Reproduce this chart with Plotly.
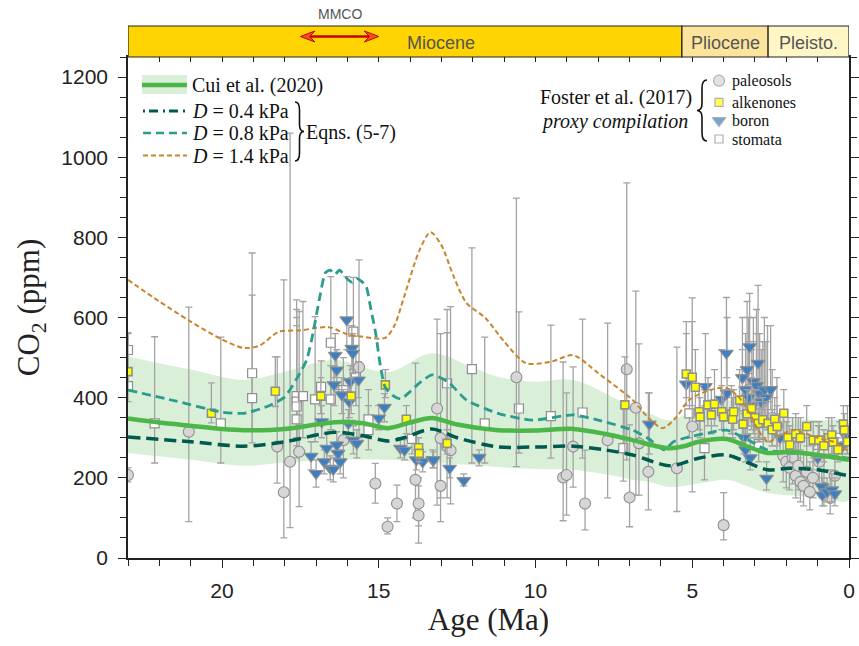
import plotly.graph_objects as go

# ---------------- model curves ----------------
cui_age = [23, 22, 21, 20, 19.3, 18, 17, 16.4, 15.5, 14.7, 14.0, 13.3, 12.5, 11.2, 10, 8.8, 7.8, 6.9, 6.2, 5.7, 5.2, 4.8, 3.9, 3.3, 2.6, 1.9, 1.0, 0]
cui_co2 = [348, 338, 330, 322, 319, 322, 333, 339, 336, 324, 338, 349, 333, 319, 318, 322, 310, 294, 280, 274, 280, 290, 297, 280, 262, 265, 257, 245]

band_age = [23, 21, 19.3, 18, 16.4, 14.7, 13.3, 12, 11.2, 10, 8.8, 7.5, 6.9, 6.4, 5.7, 4.7, 3.9, 3.2, 2.6, 1.0, 0]
band_hi = [503, 470, 444, 465, 494, 464, 511, 475, 452, 440, 444, 400, 377, 362, 344, 382, 394, 370, 352, 344, 337]
band_lo = [262, 245, 230, 238, 245, 245, 237, 232, 227, 222, 220, 205, 195, 190, 177, 187, 195, 178, 162, 152, 145]

d04_age = [23, 21, 19.3, 18, 16.4, 15.5, 14.7, 14.2, 13.3, 12.5, 11.2, 10, 8.8, 7.8, 6.9, 5.7, 4.8, 3.9, 3.2, 2.6, 1.9, 1.0, 0]
d04_co2 = [302, 290, 279, 290, 314, 305, 292, 300, 322, 300, 277, 277, 279, 270, 257, 230, 249, 257, 237, 220, 224, 220, 205]

d08_age = [23, 21.5, 20, 19.3, 18.5, 18.0, 17.6, 17.3, 17.1, 16.9, 16.7, 16.55, 16.4, 16.25, 16.05, 15.85, 15.7, 15.55, 15.4, 15.25, 15.1, 14.95, 14.8, 14.55, 14.3, 14.0, 13.7, 13.3, 12.8, 12.2, 11.2, 10.1, 8.8, 8.0, 6.9, 6.4, 5.9, 5.6, 5.2, 4.5, 3.9, 3.2, 2.6, 1.9, 1.0, 0]
d08_co2 = [419, 392, 364, 361, 380, 402, 450, 494, 560, 644, 712, 718, 708, 718, 700, 688, 697, 690, 677, 620, 561, 480, 427, 405, 397, 415, 437, 457, 440, 394, 361, 344, 357, 344, 319, 298, 270, 290, 300, 312, 319, 294, 269, 262, 258, 249]

d14_age = [23, 22, 21, 20, 19.3, 18.8, 18.2, 17.5, 16.6, 16.0, 15.5, 14.8, 14.5, 14.2, 13.7, 13.35, 13.0, 12.6, 12.2, 11.6, 11.0, 10.3, 9.5, 8.8, 8.0, 6.9, 6.4, 5.95, 5.5, 5.1, 4.4, 3.9, 3.5, 3.17, 2.9, 2.58, 2.2, 1.8, 1.0, 0.5, 0]
d14_co2 = [694, 640, 590, 545, 524, 530, 564, 568, 576, 558, 552, 549, 580, 650, 768, 813, 780, 700, 636, 599, 540, 486, 490, 506, 461, 394, 350, 324, 352, 394, 420, 424, 400, 361, 320, 290, 305, 319, 300, 290, 265]

# ---------------- Foster et al. (2017) proxies ----------------
paleo_age = [23.0, 21.06, 18.24, 18.03, 17.83, 17.54, 16.13, 15.63, 15.11, 14.72, 14.42, 13.83, 13.73, 13.73, 13.14, 13.03, 13.03, 12.82, 12.71,
             10.61, 9.12, 9.01, 8.8, 8.42, 7.7, 7.09, 7.0, 6.8, 6.7, 6.4, 5.49, 5.0, 4.0,
             3.4, 3.2, 3.05, 2.95, 2.85, 2.75, 2.6, 2.45, 2.3, 2.1, 2.0, 1.9, 1.8, 1.7, 1.62, 1.55, 1.45, 1.35, 1.25, 1.15, 0.95, 0.8, 0.6, 0.45]
paleo_co2 = [207, 315, 278, 164, 240, 265, 294, 476, 186, 78, 136, 195, 136, 106, 373, 299, 180, 278, 269,
             451, 201, 207, 278, 136, 294, 471, 151, 375, 286, 215, 224, 328, 82,
             380, 420, 395, 405, 360, 390, 410, 350, 330, 255, 240, 225, 250, 205, 230, 190, 180, 215, 165, 200, 240, 175, 150, 205]
paleo_lo = [190, 91, 187, 50, 76, 128, 200, 300, 137, 60, 91, 100, 80, 37, 132, 150, 91, 150, 135,
            228, 93, 107, 177, 70, 150, 245, 78, 157, 157, 120, 116, 165, 45,
            300, 330, 310, 320, 290, 300, 320, 280, 260, 190, 175, 170, 185, 150, 170, 140, 130, 160, 120, 150, 180, 130, 110, 150]
paleo_hi = [225, 626, 502, 694, 1060, 615, 420, 744, 236, 100, 182, 486, 200, 180, 596, 560, 300, 620, 627,
            898, 489, 412, 477, 269, 586, 936, 332, 666, 534, 412, 526, 590, 163,
            520, 600, 540, 560, 480, 540, 580, 470, 450, 360, 340, 310, 350, 290, 320, 270, 260, 300, 240, 280, 330, 250, 220, 290]

alk_age = [23.0, 20.34, 18.3, 16.85, 15.88, 14.79, 14.12, 13.73, 13.71, 12.82, 7.15,
           5.19, 5.0, 4.9, 4.78, 4.75, 4.5, 4.39, 4.29, 4.06, 4.0, 3.75, 3.71, 3.68, 3.49, 3.38, 3.25, 3.11, 3.0, 2.9, 2.75, 2.58, 2.45, 2.37, 2.29, 2.08, 1.95, 1.89,
           1.7, 1.55, 1.35, 1.14, 0.96, 0.8, 0.65, 0.55, 0.51, 0.35, 0.18, 0.15, 0.05]
alk_co2 = [465, 361, 416, 404, 404, 432, 346, 275, 261, 286, 382,
           459, 451, 426, 365, 352, 382, 357, 384, 365, 352, 359, 346, 365, 394, 334, 360, 373, 350, 336, 345, 336, 320, 346, 328, 361, 300, 282,
           310, 300, 328, 294, 294, 280, 300, 307, 289, 270, 334, 319, 290]
alk_lo = [420, 337, 378, 360, 360, 400, 310, 250, 240, 260, 262,
          400, 380, 360, 320, 300, 330, 310, 330, 320, 300, 310, 300, 320, 340, 290, 310, 320, 300, 290, 300, 290, 280, 300, 280, 310, 260, 240,
          270, 260, 280, 250, 250, 240, 260, 260, 250, 240, 290, 280, 260]
alk_hi = [562, 437, 502, 450, 450, 470, 380, 300, 285, 320, 502,
          590, 649, 520, 430, 400, 450, 420, 470, 430, 420, 430, 400, 420, 470, 380, 420, 450, 420, 390, 400, 390, 370, 400, 380, 420, 350, 330,
          360, 350, 380, 340, 340, 320, 350, 350, 330, 300, 380, 360, 320]

boron_age = [17.16, 17.0, 16.82, 16.74, 16.66, 16.55, 16.45, 16.43, 16.39, 16.34, 16.34, 16.3, 16.23, 16.18, 16.02, 15.97, 15.94, 15.91, 15.86, 15.83, 15.81, 15.7, 15.65,
             15.0, 14.82, 14.31, 14.18, 13.8, 13.6, 13.28, 13.25, 12.74, 12.29, 11.8, 6.37,
             5.19, 4.58, 4.07, 3.91, 3.89, 3.4, 3.3, 3.25, 3.2, 3.17, 3.1, 3.05, 2.95, 2.9, 2.85, 2.8, 2.7, 2.65, 2.5, 3.35, 3.3, 3.15, 2.63, 2.2,
             1.0, 0.87, 0.85, 0.7, 0.55, 0.45, 0.2, 0.05]
boron_co2 = [254, 211, 340, 240, 274, 224, 221, 432, 506, 469, 282, 261, 240, 407, 594, 336, 390, 440, 523, 511, 294, 286, 444,
             349, 376, 274, 269, 245, 240, 245, 245, 224, 193, 251, 334,
             434, 428, 396, 511, 411, 450, 420, 470, 400, 527, 380, 440, 430, 486, 410, 390, 420, 400, 420, 300, 270, 250, 199, 300,
             250, 178, 157, 165, 170, 160, 280, 300]
boron_lo = [220, 177, 300, 210, 240, 195, 190, 380, 450, 420, 250, 230, 210, 360, 520, 300, 350, 400, 470, 460, 260, 250, 400,
            320, 340, 250, 245, 220, 215, 225, 225, 200, 180, 230, 259,
            380, 380, 350, 450, 360, 400, 370, 410, 350, 460, 330, 380, 380, 420, 360, 340, 370, 350, 370, 260, 240, 220, 170, 260,
            220, 150, 130, 140, 140, 130, 250, 260]
boron_hi = [290, 245, 380, 270, 310, 255, 250, 480, 560, 520, 315, 290, 270, 450, 702, 370, 430, 480, 580, 560, 330, 320, 490,
            380, 410, 300, 295, 270, 265, 270, 265, 250, 210, 270, 412,
            560, 560, 520, 650, 600, 600, 560, 640, 540, 660, 520, 600, 620, 680, 560, 520, 600, 540, 580, 360, 330, 300, 240, 360,
            290, 220, 200, 200, 210, 200, 340, 380]

stom_age = [23.0, 23.0, 22.15, 20.04, 19.04, 19.04, 17.62, 17.62, 17.62, 17.62, 17.42, 17.03, 16.84, 16.53, 16.53, 16.13, 15.81, 15.73, 15.33, 15.33, 13.94,
            12.82, 12.03, 11.62, 10.53, 9.51, 8.5, 7.2, 5.09, 4.61, 2.88, 1.62, 0.98, 0.3]
stom_co2 = [519, 429, 336, 336, 461, 399, 404, 390, 378, 346, 404, 396, 427, 537, 396, 419, 565, 451, 346, 319, 297,
            436, 471, 336, 373, 354, 363, 274, 361, 274, 284, 299, 282, 300]
stom_lo = [470, 390, 237, 237, 320, 287, 300, 280, 270, 250, 300, 290, 360, 400, 320, 340, 450, 380, 300, 270, 260,
           300, 237, 237, 262, 249, 249, 192, 300, 195, 240, 250, 240, 260]
stom_hi = [560, 470, 552, 551, 761, 656, 644, 620, 600, 580, 640, 602, 492, 702, 480, 500, 700, 530, 420, 380, 340,
           562, 774, 551, 614, 581, 596, 380, 440, 420, 330, 350, 330, 340]

# ---------------- geologic time bar ----------------
epoch_names = ["Miocene", "Pliocene", "Pleisto."]
epoch_start = [23.0, 5.33, 2.58]
epoch_end = [5.33, 2.58, 0.0]
epoch_label_age = [13.0, 3.95, 1.29]
epoch_colors = ["#FFD400", "#FCE49C", "#FFF6C6"]
mmco_start, mmco_end = 17.5, 15.0

x_ticks = [20, 15, 10, 5, 0]
y_ticks = [0, 200, 400, 600, 800, 1000, 1200]

SERIF = "Liberation Serif, Times New Roman, serif"
SANS = "Liberation Sans, Arial, sans-serif"
ERR_COL = "#a3a3a3"
TXT = "#111"

# plot area in pixels (for placing legend decorations in paper units)
L, R, T, B = 128, 849, 57, 558


def px(x):
    return (x - L) / (R - L)


def py(y):
    return (B - y) / (B - T)


fig = go.Figure()

fig.add_trace(go.Scatter(x=band_age + band_age[::-1], y=band_hi + band_lo[::-1],
                         fill="toself", fillcolor="rgba(120,195,110,0.27)", line=dict(width=0, shape="spline"),
                         mode="lines", hoverinfo="skip", showlegend=False))


def err(vals, lo, hi):
    return dict(type="data", symmetric=False,
                array=[h - v for v, h in zip(vals, hi)],
                arrayminus=[v - l for v, l in zip(vals, lo)],
                color=ERR_COL, thickness=1.3, width=3.5)


fig.add_trace(go.Scatter(x=stom_age, y=stom_co2, mode="markers", error_y=err(stom_co2, stom_lo, stom_hi),
                         marker=dict(symbol="square", size=9, color="white", line=dict(color="#8f8f8f", width=1.2)),
                         showlegend=False))
fig.add_trace(go.Scatter(x=paleo_age, y=paleo_co2, mode="markers", error_y=err(paleo_co2, paleo_lo, paleo_hi),
                         marker=dict(symbol="circle", size=11, color="#d6d6d6", line=dict(color="#8f8f8f", width=1.1)),
                         showlegend=False))
fig.add_trace(go.Scatter(x=boron_age, y=boron_co2, mode="markers", error_y=err(boron_co2, boron_lo, boron_hi),
                         marker=dict(symbol="triangle-down", size=12, color="#3c7fc2", line=dict(color="#8f8f8f", width=1.1)),
                         showlegend=False))
fig.add_trace(go.Scatter(x=alk_age, y=alk_co2, mode="markers", error_y=err(alk_co2, alk_lo, alk_hi),
                         marker=dict(symbol="square", size=8, color="#ffff00", line=dict(color="#8f8f8f", width=1.6)),
                         showlegend=False))

fig.add_trace(go.Scatter(x=d14_age, y=d14_co2, mode="lines",
                         line=dict(color="#c8852c", width=2, dash="5px,3px", shape="spline", smoothing=0.8), showlegend=False))
fig.add_trace(go.Scatter(x=d08_age, y=d08_co2, mode="lines",
                         line=dict(color="#2b9c8e", width=2.8, dash="9px,5px", shape="spline", smoothing=0.6), showlegend=False))
fig.add_trace(go.Scatter(x=d04_age, y=d04_co2, mode="lines",
                         line=dict(color="#005a4e", width=3.5, dash="12px,6px", shape="spline", smoothing=0.8), showlegend=False))
fig.add_trace(go.Scatter(x=cui_age, y=cui_co2, mode="lines",
                         line=dict(color="#4cb648", width=4.5, shape="spline", smoothing=0.8), showlegend=False))

# legend markers for the proxy compilation (overlay axes in paper space)
leg_sym = ["circle", "square", "triangle-down", "square"]
leg_fill = ["#d6d6d6", "#ffff00", "#3c7fc2", "white"]
leg_size = [11, 8, 12, 8]
leg_text = ["paleosols", "alkenones", "boron", "stomata"]
leg_py = [80.7, 102.3, 120.5, 139]
fig.add_trace(go.Scatter(x=[px(719)] * 4, y=[py(v) for v in leg_py], xaxis="x3", yaxis="y3", mode="markers",
                         marker=dict(symbol=leg_sym, color=leg_fill, size=leg_size, line=dict(color="#8f8f8f", width=1.2)),
                         hoverinfo="skip", showlegend=False))
fig.add_trace(go.Scatter(x=[10], y=[0], xaxis="x2", mode="markers", marker=dict(opacity=0), hoverinfo="skip", showlegend=False))

shapes = []
annotations = []
for t, v in zip(leg_text, leg_py):
    annotations.append(dict(x=px(730), y=py(v), xref="paper", yref="paper", xanchor="left", yanchor="middle",
                            text=t, showarrow=False, font=dict(family=SERIF, size=16, color=TXT)))

# epoch bar
for name, s, e, c, la in zip(epoch_names, epoch_start, epoch_end, epoch_colors, epoch_label_age):
    shapes.append(dict(type="rect", xref="x", yref="paper", x0=s, x1=e, y0=1.0, y1=py(26),
                       fillcolor=c, line=dict(color="#222", width=1.2), layer="above"))
    annotations.append(dict(x=la, y=py(43), xref="x", yref="paper", xanchor="center", yanchor="middle", text=name,
                            showarrow=False, font=dict(family=SANS, size=18, color="#555")))
# MMCO arrow
ay = py(36.5)
hl = 0.46
hw = 5.5 / (B - T)
shapes.append(dict(type="line", xref="x", yref="paper", x0=mmco_start - hl * 0.6, x1=mmco_end + hl * 0.6, y0=ay, y1=ay,
                   line=dict(color="#c80000", width=2.5), layer="above"))
for tip, back in [(mmco_start, mmco_start - hl), (mmco_end, mmco_end + hl)]:
    shapes.append(dict(type="path", xref="x", yref="paper",
                       path=f"M {tip} {ay} L {back} {ay + hw} L {back + (tip - back) * 0.35} {ay} L {back} {ay - hw} Z",
                       fillcolor="#f0541e", line=dict(color="#c80000", width=1), layer="above"))
annotations.append(dict(x=(mmco_start + mmco_end) / 2, y=py(14), xref="x", yref="paper", xanchor="center", yanchor="middle",
                        text="MMCO", showarrow=False, font=dict(family=SANS, size=14, color="#555")))

# left legend
shapes.append(dict(type="rect", xref="paper", yref="paper", x0=px(142), x1=px(187), y0=py(94), y1=py(75),
                   fillcolor="rgba(120,195,110,0.27)", line=dict(width=0)))
shapes.append(dict(type="line", xref="paper", yref="paper", x0=px(142), x1=px(187), y0=py(85), y1=py(85),
                   line=dict(color="#4cb648", width=4.5)))
leg_lines = [(111, "#005a4e", 3.2, "2px,4px,9px,5px", "0.4"), (133, "#2b9c8e", 2.5, "8px,5px", "0.8"),
             (155.5, "#c8852c", 2, "5px,3px", "1.4")]
for yy, col, w, dsh, lab in leg_lines:
    shapes.append(dict(type="line", xref="paper", yref="paper", x0=px(143), x1=px(187), y0=py(yy), y1=py(yy),
                       line=dict(color=col, width=w, dash=dsh)))
    annotations.append(dict(x=px(190), y=py(yy), xref="paper", yref="paper", xanchor="left", yanchor="middle",
                            text=f"<i>D</i> = {lab} kPa", showarrow=False, font=dict(family=SERIF, size=20, color=TXT)))
annotations.append(dict(x=px(190), y=py(85.5), xref="paper", yref="paper", xanchor="left", yanchor="middle",
                        text="Cui et al. (2020)", showarrow=False, font=dict(family=SERIF, size=20, color=TXT)))
annotations.append(dict(x=px(304), y=py(132), xref="paper", yref="paper", xanchor="left", yanchor="middle",
                        text="Eqns. (5-7)", showarrow=False, font=dict(family=SERIF, size=20, color=TXT)))


def brace(x_end, x_stem, x_tip, y0, y1):
    ym = (y0 + y1) / 2
    pts = [(x_end, y0), (x_stem, y0), (x_stem, y0 + 8), (x_stem, ym - 7), (x_stem, ym), (x_tip, ym),
           (x_stem, ym), (x_stem, ym + 7), (x_stem, y1 - 8), (x_stem, y1), (x_end, y1)]
    p = [(px(a), py(b)) for a, b in pts]
    return (f"M {p[0][0]} {p[0][1]} Q {p[1][0]} {p[1][1]} {p[2][0]} {p[2][1]} L {p[3][0]} {p[3][1]} "
            f"Q {p[4][0]} {p[4][1]} {p[5][0]} {p[5][1]} Q {p[6][0]} {p[6][1]} {p[7][0]} {p[7][1]} "
            f"L {p[8][0]} {p[8][1]} Q {p[9][0]} {p[9][1]} {p[10][0]} {p[10][1]}")


shapes.append(dict(type="path", xref="paper", yref="paper", path=brace(295, 299.5, 304, 102, 161),
                   line=dict(color=TXT, width=1.6)))
shapes.append(dict(type="path", xref="paper", yref="paper", path=brace(707, 702, 697, 80, 141),
                   line=dict(color=TXT, width=1.6)))

# right legend text
annotations.append(dict(x=px(694), y=py(97), xref="paper", yref="paper", xanchor="right", yanchor="middle",
                        text="Foster et al. (2017)", showarrow=False, font=dict(family=SERIF, size=20, color=TXT)))
annotations.append(dict(x=px(690), y=py(121.5), xref="paper", yref="paper", xanchor="right", yanchor="middle",
                        text="<i>proxy compilation</i>", showarrow=False, font=dict(family=SERIF, size=20, color=TXT)))

fig.update_layout(
    width=859, height=646,
    margin=dict(l=L, r=859 - R, t=T, b=646 - B, autoexpand=False),
    paper_bgcolor="white", plot_bgcolor="white",
    shapes=shapes, annotations=annotations,
    xaxis=dict(range=[23, 0], tickmode="array", tickvals=x_ticks, ticks="outside", ticklen=8, tickwidth=1.2,
               tickcolor="#222", showline=True, linecolor="#222", linewidth=1.5, mirror=True, showgrid=False, zeroline=False,
               minor=dict(dtick=1, ticks="outside", ticklen=6, tickcolor="#222", tickwidth=1, showgrid=False),
               tickfont=dict(family=SANS, size=21, color="#222"), ticklabelstandoff=5, automargin=False,
               title=dict(text="Age (Ma)", font=dict(family=SERIF, size=31, color="#222"), standoff=2)),
    xaxis2=dict(range=[23, 0], overlaying="x", side="top", anchor="y", ticks="inside", ticklen=5, tickcolor="#222",
                dtick=1, tick0=0, showticklabels=False, showline=False, showgrid=False, zeroline=False, automargin=False),
    yaxis=dict(range=[0, 1250], tickmode="array", tickvals=y_ticks, ticks="outside", ticklen=8, tickwidth=1.2,
               tickcolor="#222", showline=True, linecolor="#222", linewidth=1.5, mirror="ticks", showgrid=False, zeroline=False,
               minor=dict(dtick=50, ticks="outside", ticklen=6, tickcolor="#222", tickwidth=1, showgrid=False),
               tickfont=dict(family=SANS, size=21, color="#222"), ticklabelstandoff=6, automargin=False,
               title=dict(text="CO<sub>2</sub> (ppm)", font=dict(family=SERIF, size=31, color="#222"), standoff=12)),
    xaxis3=dict(range=[0, 1], overlaying="x", visible=False, automargin=False),
    yaxis3=dict(range=[0, 1], overlaying="y", visible=False, anchor="x3", automargin=False),
    showlegend=False,
)
fig.write_html("out.html", config={"displayModeBar": False},
               post_script="document.body.style.margin='0px';document.body.style.overflow='hidden';")
